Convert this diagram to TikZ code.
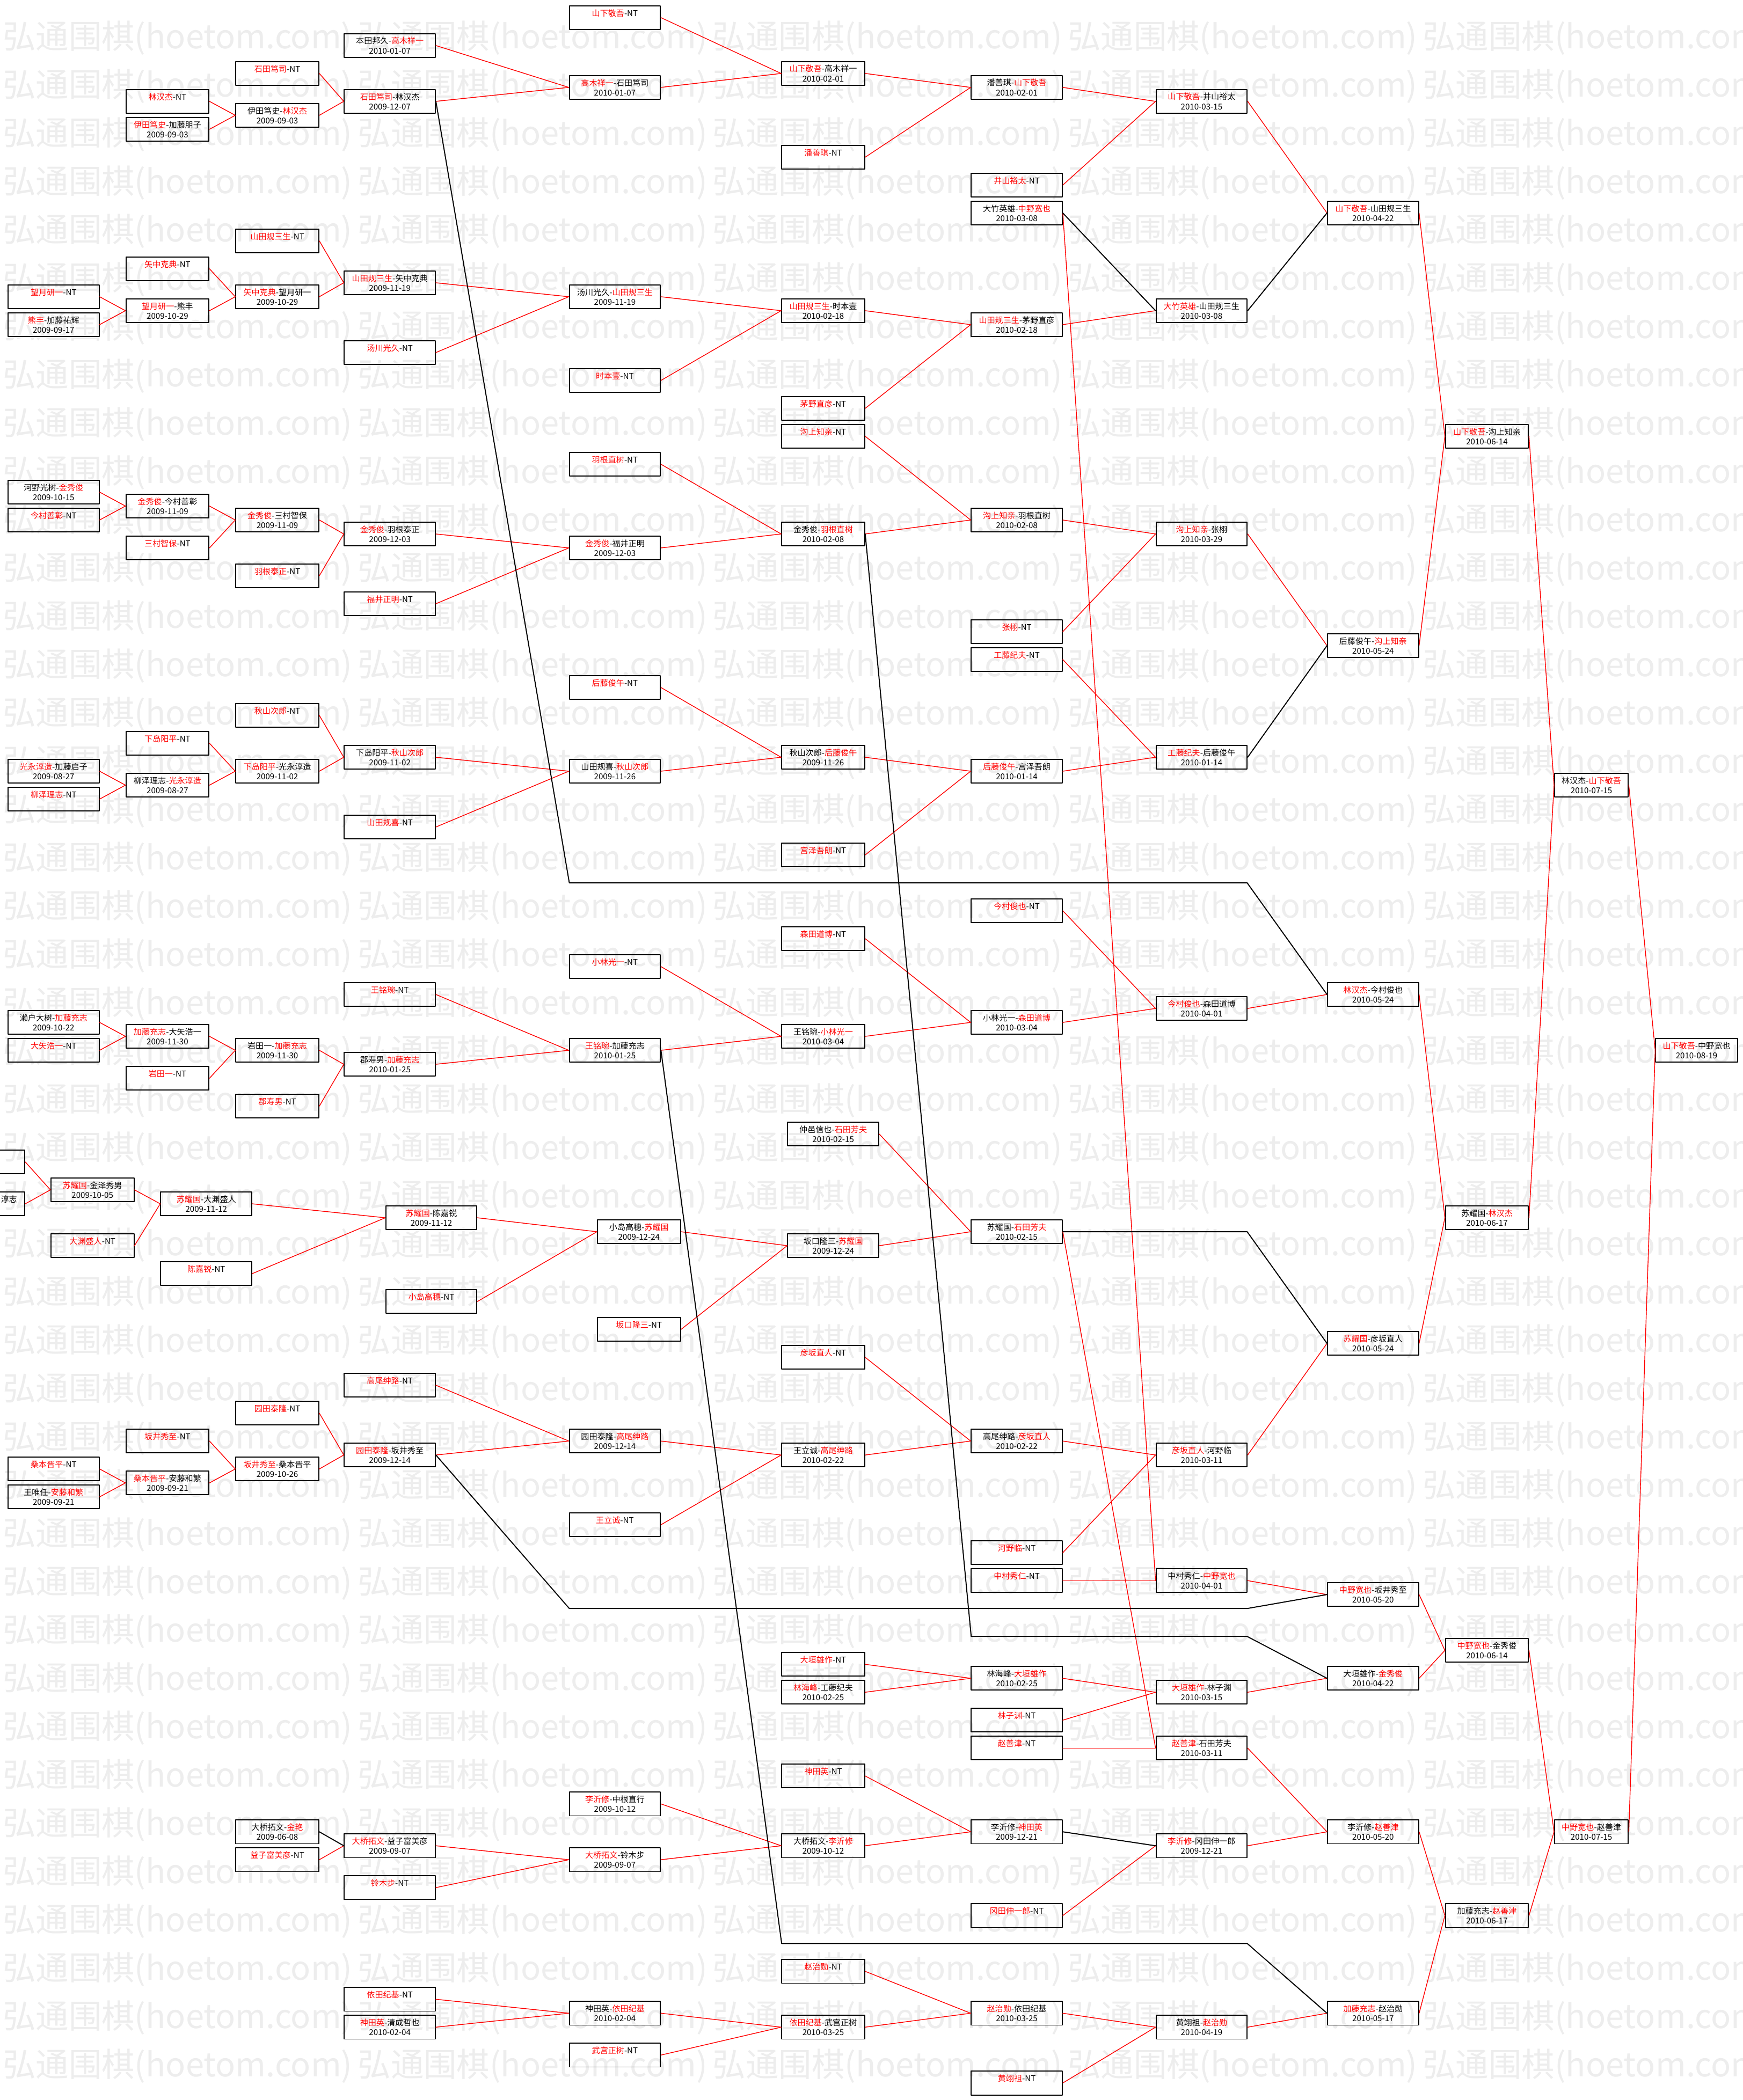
\documentclass[tikz,border=0pt]{standalone}
\usepackage{fontspec}
\newfontfamily\cjk{Noto Sans CJK SC}
\usepackage{tikz}
\usepackage{xcolor}

\newcommand{\rn}[1]{\textcolor{red}{#1}}
\newcommand{\ntgame}[1]{\rn{#1}-NT\\\mbox{}}

\begin{document}
\begin{tikzpicture}[x=0.5mm, y=-5.21mm, line cap=round, line join=round,
  game/.style={draw, line width=1.1pt, minimum height=8.9mm, inner sep=0pt, align=center, font=\cjk\fontsize{8.6}{10.4}\selectfont},
  w68/.style={game, minimum width=34mm},
  w62/.style={game, minimum width=31mm},
  w55/.style={game, minimum width=27.5mm},
  w61/.style={game, minimum width=30.5mm},
  win/.style={red, line width=0.8pt},
  lose/.style={black, line width=1.1pt},
  wmark/.style={anchor=west, inner sep=0pt, text=black!7, font=\cjk\fontsize{35}{40}\selectfont}]
\useasboundingbox (0,-1.263) rectangle (1301,149.22);
\clip (0,-1.263) rectangle (1301,149.22);
\fill[white] (0,-1.263) rectangle (1301,149.22);
% watermark
\foreach \i in {0,...,4}
  \foreach \j in {0,...,42}
    \node[wmark] (w\i-\j) at ({2+265*\i},{1.472+3.4597*\j}) {弘通围棋(hoetom.com)};

% column 0
\node[w68] (cur82) at (-15.5,82) {};
\node[w68] (cur85) at (-15.5,85) {\phantom{柳泽理志-光永淳}淳志\\\phantom{2009-08-2}5};
\node[w68] (c0r20) at (40,20) {\ntgame{望月研一}};
\node[w68] (c0r22) at (40,22) {\rn{熊丰}-加藤祐辉\\2009-09-17};
\node[w68] (c0r34) at (40,34) {河野光树-\rn{金秀俊}\\2009-10-15};
\node[w68] (c0r36) at (40,36) {\ntgame{今村善彰}};
\node[w68] (c0r54) at (40,54) {\rn{光永淳造}-加藤启子\\2009-08-27};
\node[w68] (c0r56) at (40,56) {\ntgame{柳泽理志}};
\node[w68] (c0r72) at (40,72) {濑户大树-\rn{加藤充志}\\2009-10-22};
\node[w68] (c0r74) at (40,74) {\ntgame{大矢浩一}};
\node[w68] (c0r104) at (40,104) {\ntgame{桑本晋平}};
\node[w68] (c0r106) at (40,106) {王唯任-\rn{安藤和繁}\\2009-09-21};

% column 1
\node[w62] (c1r6) at (125,6) {\ntgame{林汉杰}};
\node[w62] (c1r8) at (125,8) {\rn{伊田笃史}-加藤朋子\\2009-09-03};
\node[w62] (c1r18) at (125,18) {\ntgame{矢中克典}};
\node[w62] (c1r21) at (125,21) {\rn{望月研一}-熊丰\\2009-10-29};
\node[w62] (c1r35) at (125,35) {\rn{金秀俊}-今村善彰\\2009-11-09};
\node[w62] (c1r38) at (125,38) {\ntgame{三村智保}};
\node[w62] (c1r52) at (125,52) {\ntgame{下岛阳平}};
\node[w62] (c1r55) at (125,55) {柳泽理志-\rn{光永淳造}\\2009-08-27};
\node[w62] (c1r73) at (125,73) {\rn{加藤充志}-大矢浩一\\2009-11-30};
\node[w62] (c1r76) at (125,76) {\ntgame{岩田一}};
\node[w62] (c1r102) at (125,102) {\ntgame{坂井秀至}};
\node[w62] (c1r105) at (125,105) {\rn{桑本晋平}-安藤和繁\\2009-09-21};

% column 2
\node[w62] (c2r4) at (207,4) {\ntgame{石田笃司}};
\node[w62] (c2r7) at (207,7) {伊田笃史-\rn{林汉杰}\\2009-09-03};
\node[w62] (c2r16) at (207,16) {\ntgame{山田规三生}};
\node[w62] (c2r20) at (207,20) {\rn{矢中克典}-望月研一\\2009-10-29};
\node[w62] (c2r36) at (207,36) {\rn{金秀俊}-三村智保\\2009-11-09};
\node[w62] (c2r40) at (207,40) {\ntgame{羽根泰正}};
\node[w62] (c2r50) at (207,50) {\ntgame{秋山次郎}};
\node[w62] (c2r54) at (207,54) {\rn{下岛阳平}-光永淳造\\2009-11-02};
\node[w62] (c2r74) at (207,74) {岩田一-\rn{加藤充志}\\2009-11-30};
\node[w62] (c2r78) at (207,78) {\ntgame{郡寿男}};
\node[w62] (c2r100) at (207,100) {\ntgame{园田泰隆}};
\node[w62] (c2r104) at (207,104) {\rn{坂井秀至}-桑本晋平\\2009-10-26};
\node[w62] (c2r130) at (207,130) {大桥拓文-\rn{金艳}\\2009-06-08};
\node[w62] (c2r132) at (207,132) {\ntgame{益子富美彦}};

% column 3
\node[w68] (c3r2) at (291,2) {本田邦久-\rn{高木祥一}\\2010-01-07};
\node[w68] (c3r6) at (291,6) {\rn{石田笃司}-林汉杰\\2009-12-07};
\node[w68] (c3r19) at (291,19) {\rn{山田规三生}-矢中克典\\2009-11-19};
\node[w68] (c3r24) at (291,24) {\ntgame{汤川光久}};
\node[w68] (c3r37) at (291,37) {\rn{金秀俊}-羽根泰正\\2009-12-03};
\node[w68] (c3r42) at (291,42) {\ntgame{福井正明}};
\node[w68] (c3r53) at (291,53) {下岛阳平-\rn{秋山次郎}\\2009-11-02};
\node[w68] (c3r58) at (291,58) {\ntgame{山田规喜}};
\node[w68] (c3r70) at (291,70) {\ntgame{王铭琬}};
\node[w68] (c3r75) at (291,75) {郡寿男-\rn{加藤充志}\\2010-01-25};
\node[w68] (c3r98) at (291,98) {\ntgame{高尾绅路}};
\node[w68] (c3r103) at (291,103) {\rn{园田泰隆}-坂井秀至\\2009-12-14};
\node[w68] (c3r131) at (291,131) {\rn{大桥拓文}-益子富美彦\\2009-09-07};
\node[w68] (c3r134) at (291,134) {\ntgame{铃木步}};
\node[w68] (c3r142) at (291,142) {\ntgame{依田纪基}};
\node[w68] (c3r144) at (291,144) {\rn{神田英}-清成哲也\\2010-02-04};

% lower left block
\node[w62] (cAr84) at (69,84) {\rn{苏耀国}-金泽秀男\\2009-10-05};
\node[w62] (cAr88) at (69,88) {\ntgame{大渊盛人}};
\node[w68] (cBr85) at (154,85) {\rn{苏耀国}-大渊盛人\\2009-11-12};
\node[w68] (cBr90) at (154,90) {\ntgame{陈嘉锐}};
\node[w68] (cCr86) at (322,86) {\rn{苏耀国}-陈嘉锐\\2009-11-12};
\node[w68] (cCr92) at (322,92) {\ntgame{小岛高穗}};
\node[w62] (cEr87) at (477,87) {小岛高穗-\rn{苏耀国}\\2009-12-24};
\node[w62] (cEr94) at (477,94) {\ntgame{坂口隆三}};
\node[w68] (cDr80) at (622,80) {仲邑信也-\rn{石田芳夫}\\2010-02-15};
\node[w68] (cDr88) at (622,88) {坂口隆三-\rn{苏耀国}\\2009-12-24};

% column 4
\node[w68] (c4r0) at (459,0) {\ntgame{山下敬吾}};
\node[w68] (c4r5) at (459,5) {\rn{高木祥一}-石田笃司\\2010-01-07};
\node[w68] (c4r20) at (459,20) {汤川光久-\rn{山田规三生}\\2009-11-19};
\node[w68] (c4r26) at (459,26) {\ntgame{时本壹}};
\node[w68] (c4r32) at (459,32) {\ntgame{羽根直树}};
\node[w68] (c4r38) at (459,38) {\rn{金秀俊}-福井正明\\2009-12-03};
\node[w68] (c4r48) at (459,48) {\ntgame{后藤俊午}};
\node[w68] (c4r54) at (459,54) {山田规喜-\rn{秋山次郎}\\2009-11-26};
\node[w68] (c4r68) at (459,68) {\ntgame{小林光一}};
\node[w68] (c4r74) at (459,74) {\rn{王铭琬}-加藤充志\\2010-01-25};
\node[w68] (c4r102) at (459,102) {园田泰隆-\rn{高尾绅路}\\2009-12-14};
\node[w68] (c4r108) at (459,108) {\ntgame{王立诚}};
\node[w68] (c4r128) at (459,128) {\rn{李沂修}-中根直行\\2009-10-12};
\node[w68] (c4r132) at (459,132) {\rn{大桥拓文}-铃木步\\2009-09-07};
\node[w68] (c4r143) at (459,143) {神田英-\rn{依田纪基}\\2010-02-04};
\node[w68] (c4r146) at (459,146) {\ntgame{武宫正树}};

% column 5
\node[w62] (c5r4) at (614.5,4) {\rn{山下敬吾}-高木祥一\\2010-02-01};
\node[w62] (c5r10) at (614.5,10) {\ntgame{潘善琪}};
\node[w62] (c5r21) at (614.5,21) {\rn{山田规三生}-时本壹\\2010-02-18};
\node[w62] (c5r28) at (614.5,28) {\ntgame{茅野直彦}};
\node[w62] (c5r30) at (614.5,30) {\ntgame{沟上知亲}};
\node[w62] (c5r37) at (614.5,37) {金秀俊-\rn{羽根直树}\\2010-02-08};
\node[w62] (c5r53) at (614.5,53) {秋山次郎-\rn{后藤俊午}\\2009-11-26};
\node[w62] (c5r60) at (614.5,60) {\ntgame{宫泽吾朗}};
\node[w62] (c5r66) at (614.5,66) {\ntgame{森田道博}};
\node[w62] (c5r73) at (614.5,73) {王铭琬-\rn{小林光一}\\2010-03-04};
\node[w62] (c5r96) at (614.5,96) {\ntgame{彦坂直人}};
\node[w62] (c5r103) at (614.5,103) {王立诚-\rn{高尾绅路}\\2010-02-22};
\node[w62] (c5r118) at (614.5,118) {\ntgame{大垣雄作}};
\node[w62] (c5r120) at (614.5,120) {\rn{林海峰}-工藤纪夫\\2010-02-25};
\node[w62] (c5r126) at (614.5,126) {\ntgame{神田英}};
\node[w62] (c5r131) at (614.5,131) {大桥拓文-\rn{李沂修}\\2009-10-12};
\node[w62] (c5r140) at (614.5,140) {\ntgame{赵治勋}};
\node[w62] (c5r144) at (614.5,144) {\rn{依田纪基}-武宫正树\\2010-03-25};

% column 6
\node[w68] (c6r5) at (759,5) {潘善琪-\rn{山下敬吾}\\2010-02-01};
\node[w68] (c6r12) at (759,12) {\ntgame{井山裕太}};
\node[w68] (c6r14) at (759,14) {大竹英雄-\rn{中野宽也}\\2010-03-08};
\node[w68] (c6r22) at (759,22) {\rn{山田规三生}-茅野直彦\\2010-02-18};
\node[w68] (c6r36) at (759,36) {\rn{沟上知亲}-羽根直树\\2010-02-08};
\node[w68] (c6r44) at (759,44) {\ntgame{张栩}};
\node[w68] (c6r46) at (759,46) {\ntgame{工藤纪夫}};
\node[w68] (c6r54) at (759,54) {\rn{后藤俊午}-宫泽吾朗\\2010-01-14};
\node[w68] (c6r64) at (759,64) {\ntgame{今村俊也}};
\node[w68] (c6r72) at (759,72) {小林光一-\rn{森田道博}\\2010-03-04};
\node[w68] (c6r87) at (759,87) {苏耀国-\rn{石田芳夫}\\2010-02-15};
\node[w68] (c6r102) at (759,102) {高尾绅路-\rn{彦坂直人}\\2010-02-22};
\node[w68] (c6r110) at (759,110) {\ntgame{河野临}};
\node[w68] (c6r112) at (759,112) {\ntgame{中村秀仁}};
\node[w68] (c6r119) at (759,119) {林海峰-\rn{大垣雄作}\\2010-02-25};
\node[w68] (c6r122) at (759,122) {\ntgame{林子渊}};
\node[w68] (c6r124) at (759,124) {\ntgame{赵善津}};
\node[w68] (c6r130) at (759,130) {李沂修-\rn{神田英}\\2009-12-21};
\node[w68] (c6r136) at (759,136) {\ntgame{冈田伸一郎}};
\node[w68] (c6r143) at (759,143) {\rn{赵治勋}-依田纪基\\2010-03-25};
\node[w68] (c6r148) at (759,148) {\ntgame{黄翊祖}};

% column 7
\node[w68] (c7r6) at (897,6) {\rn{山下敬吾}-井山裕太\\2010-03-15};
\node[w68] (c7r21) at (897,21) {\rn{大竹英雄}-山田规三生\\2010-03-08};
\node[w68] (c7r37) at (897,37) {\rn{沟上知亲}-张栩\\2010-03-29};
\node[w68] (c7r53) at (897,53) {\rn{工藤纪夫}-后藤俊午\\2010-01-14};
\node[w68] (c7r71) at (897,71) {\rn{今村俊也}-森田道博\\2010-04-01};
\node[w68] (c7r103) at (897,103) {\rn{彦坂直人}-河野临\\2010-03-11};
\node[w68] (c7r112) at (897,112) {中村秀仁-\rn{中野宽也}\\2010-04-01};
\node[w68] (c7r120) at (897,120) {\rn{大垣雄作}-林子渊\\2010-03-15};
\node[w68] (c7r124) at (897,124) {\rn{赵善津}-石田芳夫\\2010-03-11};
\node[w68] (c7r131) at (897,131) {\rn{李沂修}-冈田伸一郎\\2009-12-21};
\node[w68] (c7r144) at (897,144) {黄翊祖-\rn{赵治勋}\\2010-04-19};

% columns 8 to 11
\node[w68] (c8r14) at (1025,14) {\rn{山下敬吾}-山田规三生\\2010-04-22};
\node[w68] (c8r45) at (1025,45) {后藤俊午-\rn{沟上知亲}\\2010-05-24};
\node[w68] (c8r70) at (1025,70) {\rn{林汉杰}-今村俊也\\2010-05-24};
\node[w68] (c8r95) at (1025,95) {\rn{苏耀国}-彦坂直人\\2010-05-24};
\node[w68] (c8r113) at (1025,113) {\rn{中野宽也}-坂井秀至\\2010-05-20};
\node[w68] (c8r119) at (1025,119) {大垣雄作-\rn{金秀俊}\\2010-04-22};
\node[w68] (c8r130) at (1025,130) {李沂修-\rn{赵善津}\\2010-05-20};
\node[w68] (c8r143) at (1025,143) {\rn{加藤充志}-赵治勋\\2010-05-17};
\node[w62] (c9r30) at (1110,30) {\rn{山下敬吾}-沟上知亲\\2010-06-14};
\node[w62] (c9r86) at (1110,86) {苏耀国-\rn{林汉杰}\\2010-06-17};
\node[w62] (c9r117) at (1110,117) {\rn{中野宽也}-金秀俊\\2010-06-14};
\node[w62] (c9r136) at (1110,136) {加藤充志-\rn{赵善津}\\2010-06-17};
\node[w55] (c10r55) at (1188,55) {林汉杰-\rn{山下敬吾}\\2010-07-15};
\node[w55] (c10r130) at (1188,130) {\rn{中野宽也}-赵善津\\2010-07-15};
\node[w61] (c11r74) at (1266.5,74) {\rn{山下敬吾}-中野宽也\\2010-08-19};

% winners
\foreach \a/\b in {c1r6/c2r7, c1r8/c2r7, c2r4/c3r6, c2r7/c3r6, c3r2/c4r5, c3r6/c4r5,
  c4r0/c5r4, c4r5/c5r4, c5r4/c6r5, c5r10/c6r5, c6r5/c7r6, c6r12/c7r6, c7r6/c8r14,
  c6r22/c7r21, c6r14/c7r112,
  c1r18/c2r20, c0r20/c1r21, c0r22/c1r21, c1r21/c2r20, c2r16/c3r19, c2r20/c3r19,
  c3r19/c4r20, c3r24/c4r20, c4r20/c5r21, c4r26/c5r21, c5r21/c6r22, c5r28/c6r22,
  c0r34/c1r35, c0r36/c1r35, c1r35/c2r36, c1r38/c2r36, c2r36/c3r37, c2r40/c3r37,
  c3r37/c4r38, c3r42/c4r38, c4r32/c5r37, c4r38/c5r37, c5r30/c6r36, c5r37/c6r36,
  c6r36/c7r37, c6r44/c7r37, c7r37/c8r45, c8r14/c9r30, c8r45/c9r30,
  c9r30/c10r55, c9r86/c10r55, c10r55/c11r74, c10r130/c11r74,
  c2r50/c3r53, c2r54/c3r53, c1r52/c2r54, c1r55/c2r54, c0r54/c1r55, c0r56/c1r55,
  c3r53/c4r54, c3r58/c4r54, c4r48/c5r53, c4r54/c5r53, c5r53/c6r54, c5r60/c6r54,
  c6r46/c7r53, c6r54/c7r53, c5r66/c6r72, c5r73/c6r72, c4r68/c5r73, c4r74/c5r73,
  c3r70/c4r74, c3r75/c4r74, c0r72/c1r73, c0r74/c1r73, c1r73/c2r74, c1r76/c2r74,
  c2r74/c3r75, c2r78/c3r75, c6r64/c7r71, c6r72/c7r71, c7r71/c8r70,
  c8r70/c9r86, c8r95/c9r86,
  cur82/cAr84, cur85/cAr84, cAr84/cBr85, cAr88/cBr85, cBr85/cCr86, cBr90/cCr86,
  cCr86/cEr87, cCr92/cEr87, cEr87/cDr88, cEr94/cDr88, cDr80/c6r87, cDr88/c6r87,
  c6r87/c7r124,
  c5r96/c6r102, c5r103/c6r102, c3r98/c4r102, c3r103/c4r102, c4r102/c5r103, c4r108/c5r103,
  c6r102/c7r103, c6r110/c7r103, c7r103/c8r95,
  c2r100/c3r103, c2r104/c3r103, c1r102/c2r104, c1r105/c2r104, c0r104/c1r105, c0r106/c1r105,
  c6r112/c7r112, c7r112/c8r113,
  c5r118/c6r119, c5r120/c6r119, c6r119/c7r120, c6r122/c7r120, c7r120/c8r119,
  c8r113/c9r117, c8r119/c9r117, c6r124/c7r124,
  c5r126/c6r130, c5r131/c6r130, c4r128/c5r131, c4r132/c5r131, c3r131/c4r132, c3r134/c4r132,
  c2r132/c3r131, c6r136/c7r131, c7r124/c8r130, c7r131/c8r130,
  c9r117/c10r130, c9r136/c10r130, c8r130/c9r136, c8r143/c9r136,
  c3r142/c4r143, c3r144/c4r143, c4r143/c5r144, c4r146/c5r144,
  c5r140/c6r143, c5r144/c6r143, c6r143/c7r144, c6r148/c7r144, c7r144/c8r143}
  \draw[win] (\a.east) -- (\b.west);

% losers
\foreach \a/\b in {c6r14/c7r21, c7r21/c8r14, c7r53/c8r45, c2r130/c3r131, c6r130/c7r131}
  \draw[lose] (\a.east) -- (\b.west);
\draw[lose] (c3r6.east) -- (425,62) -- (931,62) -- (c8r70.west);
\draw[lose] (c5r37.east) -- (725,116) -- (931,116) -- (c8r119.west);
\draw[lose] (c6r87.east) -- (931,87) -- (c8r95.west);
\draw[lose] (c3r103.east) -- (425,114) -- (931,114) -- (c8r113.west);
\draw[lose] (c4r74.east) -- (583.5,138) -- (931,138) -- (c8r143.west);
\end{tikzpicture}
\end{document}
